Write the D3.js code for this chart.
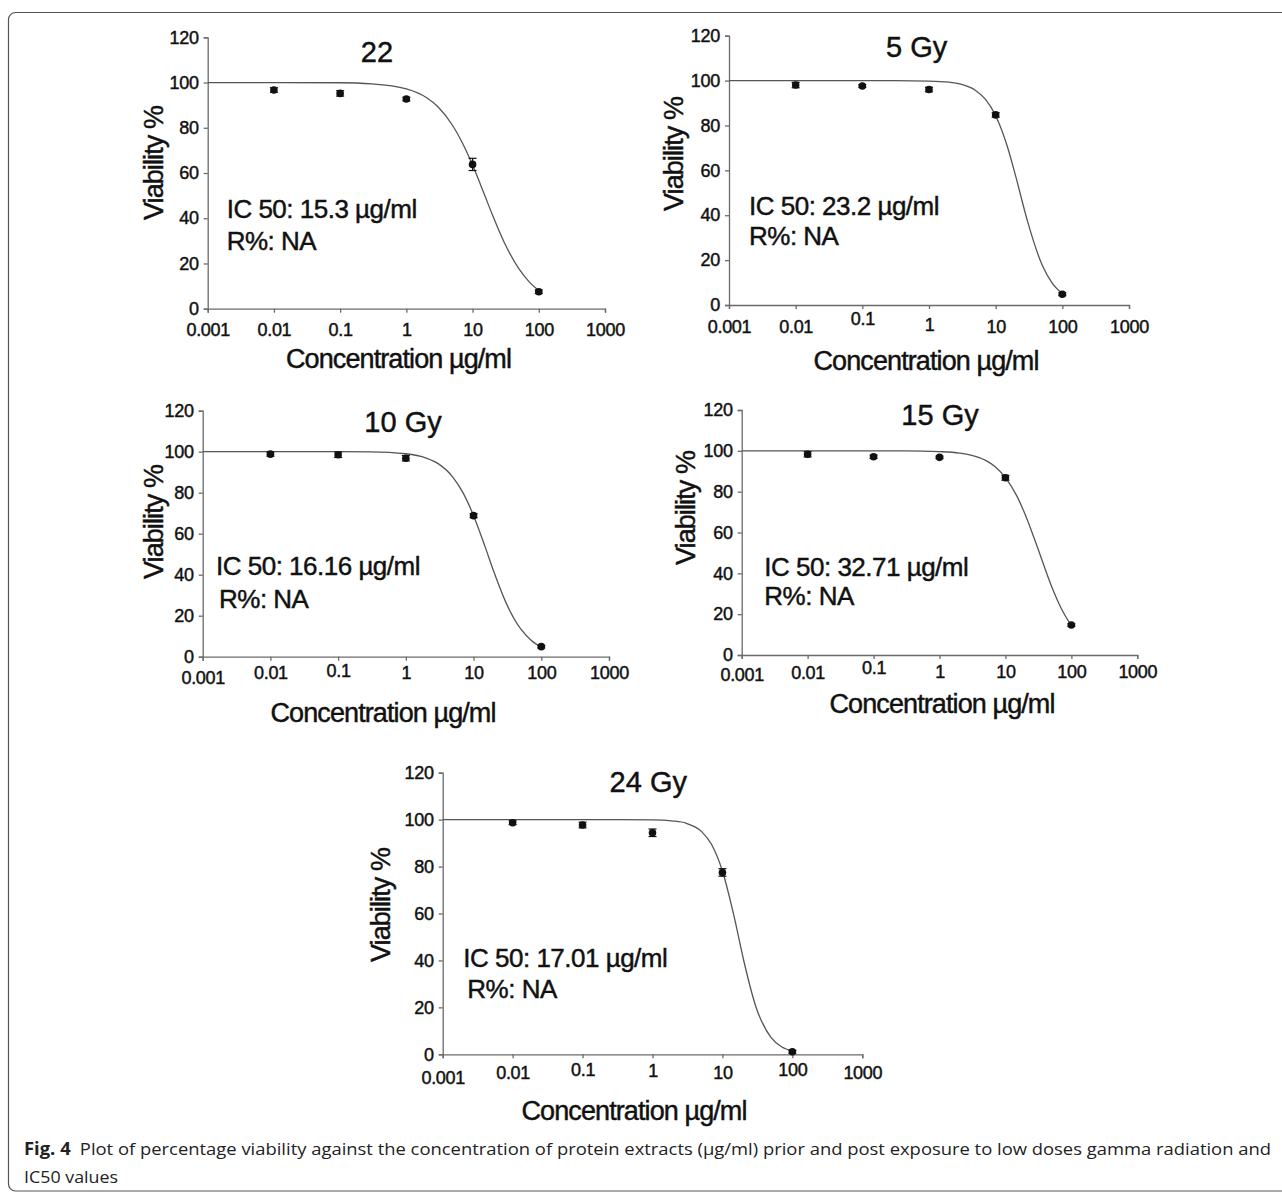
<!DOCTYPE html>
<html>
<head>
<meta charset="utf-8">
<script src="https://cdn.jsdelivr.net/npm/d3@7"></script>
<style>
  html, body { margin: 0; padding: 0; background: #fff; }
  svg { display: block; }
  .chart text { font-family: "Liberation Sans", Arial, sans-serif; fill: #111; stroke: #111; stroke-width: 0.45px; }
</style>
</head>
<body>
<svg id="fig" width="1282" height="1194"></svg>
<script>
// data
var titles = ["22", "5 Gy", "10 Gy", "15 Gy", "24 Gy"];
var ic50Labels = ["IC 50: 15.3 \u00b5g/ml", "IC 50: 23.2 \u00b5g/ml", "IC 50: 16.16 \u00b5g/ml", "IC 50: 32.71 \u00b5g/ml", "IC 50: 17.01 \u00b5g/ml"];
var rLabels = ["R%: NA", "R%: NA", "R%: NA", "R%: NA", "R%: NA"];

var concentrations = [0.01, 0.1, 1, 10, 100];
var viability = [
	[96.7, 95.2, 92.7, 63.8, 7.5],
	[98.0, 97.6, 96.0, 84.7, 4.8],
	[98.8, 98.5, 96.8, 68.8, 4.9],
	[98.3, 97.1, 96.8, 86.8, 14.7],
	[98.7, 97.7, 94.4, 77.5, 1.1]
];
var errors = [
	[1.0, 1.2, 0.8, 2.7, 0.8],
	[1.2, 0.6, 1.0, 1.0, 0.6],
	[1.0, 1.3, 1.3, 1.0, 0.6],
	[1.3, 0.8, 0.6, 1.2, 0.6],
	[0.8, 1.2, 1.6, 1.6, 0.6]
];

// fitted curves
var curveX = [0.001, 0.01, 0.1, 0.3, 1, 2, 3, 5, 7, 10, 15, 20, 30, 50, 70, 100];
var curves = [
	[100, 100, 99.9, 99.4, 97.2, 93.4, 89.3, 81.0, 73.4, 63.5, 50.7, 41.4, 29.4, 17.7, 12.2, 8.0],
	[100, 100, 100, 100, 99.8, 99.3, 98.4, 95.6, 91.7, 84.3, 70.5, 57.3, 37.4, 17.7, 9.9, 5.1],
	[100, 100, 100, 99.9, 99.0, 96.9, 94.2, 87.4, 79.9, 68.8, 53.1, 41.3, 26.5, 13.4, 8.2, 4.7],
	[100, 100, 100, 100, 99.6, 98.9, 97.9, 95.3, 92.2, 86.9, 77.7, 68.7, 53.5, 33.7, 22.9, 14.3],
	[100, 100, 100, 100, 99.9, 99.4, 98.5, 95.0, 89.4, 78.1, 57.5, 40.4, 20.4, 7.0, 3.2, 1.4]
];

var xTicks = [0.001, 0.01, 0.1, 1, 10, 100, 1000];
var xTickLabels = ["0.001", "0.01", "0.1", "1", "10", "100", "1000"];
var yTicks = [0, 20, 40, 60, 80, 100, 120];
var xTitle = "Concentration \u00b5g/ml";
var yTitle = "Viability %";

// where each panel sits on the page (shift = small vertical nudge of each x tick label)
var layout = [
	{l: 207.7, r: 605, t: 37.3, b: 308.7, title: [377, 61.7], ic: [226.7, 218], rr: [226.7, 250], ylab: [162.7, 163], xlab: [398.5, 368], pad: 10.2, shift: [0, 0, 0, 0, 0, 0, 0]},
	{l: 729, r: 1129, t: 35.7, b: 305, title: [916.7, 56.7], ic: [749, 215], rr: [749, 245], ylab: [682.7, 154], xlab: [926, 370], pad: 10.9, shift: [0, 0, -8, -2, 0, 0, 0]},
	{l: 202.7, r: 609, t: 410.7, b: 656.7, title: [403, 431.7], ic: [216, 575], rr: [219, 608.3], ylab: [163, 522], xlab: [383, 721.7], pad: 5.2, shift: [5, 0, -1.5, 0, 0, 0, 0]},
	{l: 741.7, r: 1137.3, t: 410, b: 655, title: [940, 425], ic: [764.3, 576], rr: [764.3, 605], ylab: [694.7, 508], xlab: [942, 713], pad: 5.9, shift: [3, 1, -3.7, 0, 0, 0, 0]},
	{l: 442.7, r: 862.3, t: 772.7, b: 1054.3, title: [648.3, 791.7], ic: [463.3, 966.7], rr: [467.3, 998.3], ylab: [389.7, 905], xlab: [634, 1120], pad: 7.6, shift: [5, 0, -3, -2, 0, -3, 0]}
];

var axisColor = "#6a6a6a";
var svg = d3.select("#fig");

// frame round the figure
svg.append("rect")
	.attr("x", 8.5).attr("y", 12.5)
	.attr("width", 1300).attr("height", 1178.5)
	.attr("rx", 7)
	.attr("fill", "none")
	.attr("stroke", "#555")
	.attr("stroke-width", 1.2);

layout.forEach(function(p, k){
	var g = svg.append("g").attr("class", "chart");

	var x = d3.scaleLog().domain([0.001, 1000]).range([p.l, p.r]);
	var y = d3.scaleLinear().domain([0, 120]).range([p.b, p.t]);

	//axes
	var xAxis = g.append("g")
		.attr("transform", "translate(0," + p.b + ")")
		.call(d3.axisBottom(x).tickValues(xTicks).tickSize(4).tickPadding(p.pad)
			.tickFormat(function(d, i){ return xTickLabels[i]; }));
	var yAxis = g.append("g")
		.attr("transform", "translate(" + p.l + ",0)")
		.call(d3.axisLeft(y).tickValues(yTicks).tickSize(4).tickPadding(5));

	[xAxis, yAxis].forEach(function(a){
		a.select(".domain").attr("stroke", axisColor).attr("stroke-width", 1.3);
		a.selectAll(".tick line").attr("stroke", axisColor).attr("stroke-width", 1.3);
		a.selectAll(".tick text")
			.style("font-size", "18px")
			.style("letter-spacing", "-0.3px");
	});
	xAxis.selectAll(".tick text")
		.attr("transform", function(d, i){ return "translate(0," + p.shift[i] + ")"; });

	//fitted curve
	var line = d3.line()
		.x(function(d, i){ return x(curveX[i]); })
		.y(function(d){ return y(d); })
		.curve(d3.curveMonotoneX);
	g.append("path")
		.datum(curves[k])
		.attr("d", line)
		.attr("fill", "none")
		.attr("stroke", "#555")
		.attr("stroke-width", 1.3);

	//points with error bars
	var pts = g.append("g").selectAll("g")
		.data(viability[k])
		.enter()
		.append("g");
	pts.append("line")
		.attr("x1", function(d, i){ return x(concentrations[i]); })
		.attr("x2", function(d, i){ return x(concentrations[i]); })
		.attr("y1", function(d, i){ return y(d + errors[k][i]); })
		.attr("y2", function(d, i){ return y(d - errors[k][i]); })
		.attr("stroke", "#111").attr("stroke-width", 1.2);
	[1, -1].forEach(function(s){
		pts.append("line")
			.attr("x1", function(d, i){ return x(concentrations[i]) - 4; })
			.attr("x2", function(d, i){ return x(concentrations[i]) + 4; })
			.attr("y1", function(d, i){ return y(d + s * errors[k][i]); })
			.attr("y2", function(d, i){ return y(d + s * errors[k][i]); })
			.attr("stroke", "#111").attr("stroke-width", 1.2);
	});
	pts.append("circle")
		.attr("cx", function(d, i){ return x(concentrations[i]); })
		.attr("cy", function(d){ return y(d); })
		.attr("r", 3.8)
		.attr("fill", "#111");

	//texts
	g.append("text")
		.attr("x", p.title[0]).attr("y", p.title[1])
		.attr("text-anchor", "middle")
		.attr("font-size", 29)
		.text(titles[k]);
	g.append("text")
		.attr("x", p.ic[0]).attr("y", p.ic[1])
		.attr("font-size", 26)
		.attr("letter-spacing", "-0.5px")
		.text(ic50Labels[k]);
	g.append("text")
		.attr("x", p.rr[0]).attr("y", p.rr[1])
		.attr("font-size", 26)
		.attr("letter-spacing", "-0.5px")
		.text(rLabels[k]);
	g.append("text")
		.attr("transform", "translate(" + p.xlab[0] + "," + p.xlab[1] + ")")
		.attr("text-anchor", "middle")
		.attr("font-size", 27)
		.attr("letter-spacing", "-0.9px")
		.text(xTitle);
	g.append("text")
		.attr("transform", "translate(" + p.ylab[0] + "," + p.ylab[1] + ") rotate(-90)")
		.attr("text-anchor", "middle")
		.attr("font-size", 27)
		.attr("letter-spacing", "-0.9px")
		.text(yTitle);
});

//caption
var cap = svg.append("g")
	.style("font-family", "'Open Sans', 'Noto Sans', sans-serif")
	.style("font-size", "17px")
	.attr("fill", "#222");
var line1 = cap.append("text").attr("x", 24).attr("y", 1155)
	.attr("textLength", 1247).attr("lengthAdjust", "spacingAndGlyphs");
line1.append("tspan").attr("font-weight", "bold").text("Fig. 4");
line1.append("tspan").text("\u2002Plot of percentage viability against the concentration of protein extracts (\u03bcg/ml) prior and post exposure to low doses gamma radiation and");
cap.append("text").attr("x", 24).attr("y", 1183)
	.attr("textLength", 94).attr("lengthAdjust", "spacingAndGlyphs")
	.text("IC50 values");
</script>
</body>
</html>
